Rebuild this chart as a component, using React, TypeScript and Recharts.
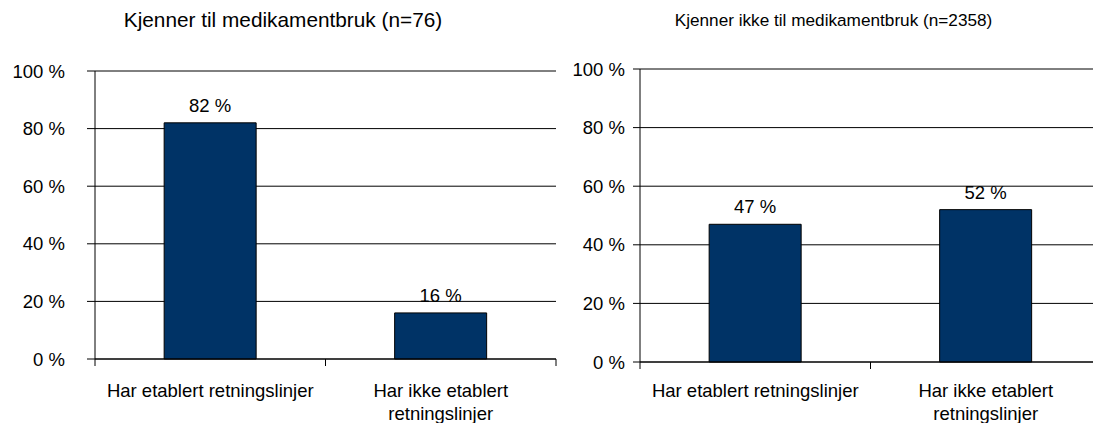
import { BarChart, Bar, XAxis, YAxis, CartesianGrid, LabelList } from "recharts";

const categories = ["Har etablert retningslinjer", "Har ikke etablert\nretningslinjer"];
const knownValues = [82, 16];
const unknownValues = [47, 52];
const yTicks = [0, 20, 40, 60, 80, 100];
const titles = ["Kjenner til medikamentbruk (n=76)", "Kjenner ikke til medikamentbruk (n=2358)"];

const FONT = "'Liberation Sans', Arial, sans-serif";
const NAVY = "#003366";
const FS = 18.5;

const leftData = categories.map((name, i) => ({ name, value: knownValues[i] }));
const rightData = categories.map((name, i) => ({ name, value: unknownValues[i] }));

const pct = (v: number) => `${v} %`;

// category label + the small boundary ticks between categories
function CategoryTick(props: any) {
  const { x, y, payload, gap, bandWidth } = props;
  const half = bandWidth / 2;
  const label = String(payload.value);
  const lines = label.split("\n");
  const isLast = categories.indexOf(label) === categories.length - 1;
  const cx = Number(x);
  const cy = Number(y);
  return (
    <g>
      <line x1={cx - half} x2={cx - half} y1={cy} y2={cy + 7} stroke="#000" strokeWidth={1} />
      {isLast && <line x1={cx + half} x2={cx + half} y1={cy} y2={cy + 7} stroke="#000" strokeWidth={1} />}
      <text x={cx} y={cy + gap} textAnchor="middle" fontSize={FS} fontFamily={FONT} fill="#000">
        {lines.map((line, i) => (
          <tspan key={i} x={cx} dy={i === 0 ? 0 : 23}>
            {line}
          </tspan>
        ))}
      </text>
    </g>
  );
}

type PanelProps = {
  data: { name: string; value: number }[];
  width: number;
  yAxisWidth: number;
  top: number;
  xAxisHeight: number;
  tickSize: number;
  tickMargin: number;
  labelGap: number;
};

function Panel({ data, width, yAxisWidth, top, xAxisHeight, tickSize, tickMargin, labelGap }: PanelProps) {
  const bandWidth = (width - yAxisWidth - 4) / data.length;
  return (
    <BarChart
      width={width}
      height={423}
      data={data}
      margin={{ top, right: 4, bottom: 0, left: 0 }}
      barCategoryGap="30%"
    >
      <CartesianGrid vertical={false} stroke="#000" strokeWidth={1} />
      <XAxis
        dataKey="name"
        height={xAxisHeight}
        tickLine={false}
        tickSize={0}
        tickMargin={0}
        axisLine={{ stroke: "#000" }}
        interval={0}
        tick={(p: any) => <CategoryTick {...p} gap={labelGap} bandWidth={bandWidth} />}
      />
      <YAxis
        width={yAxisWidth}
        domain={[0, 100]}
        ticks={yTicks}
        tickFormatter={pct}
        tickSize={tickSize}
        tickMargin={tickMargin}
        axisLine={{ stroke: "#000" }}
        tickLine={{ stroke: "#000" }}
        tick={{ fill: "#000", fontSize: FS, fontFamily: FONT }}
      />
      <Bar dataKey="value" fill={NAVY} stroke="#000" strokeWidth={1} isAnimationActive={false}>
        <LabelList
          dataKey="value"
          position="top"
          offset={11}
          formatter={(v: any) => pct(v)}
          style={{ fill: "#000", fontSize: FS, fontFamily: FONT }}
        />
      </Bar>
    </BarChart>
  );
}

export default function App() {
  return (
    <div
      style={{
        position: "absolute",
        left: 0,
        top: 0,
        width: 1093,
        height: 423,
        overflow: "hidden",
        background: "#fff",
        fontFamily: FONT,
      }}
    >
      <div style={{ position: "absolute", left: 0, top: 0, width: 560, height: 423 }}>
        <div
          style={{
            position: "absolute",
            left: 0,
            top: 8,
            width: 566,
            textAlign: "center",
            fontSize: 20.8,
            lineHeight: "24px",
          }}
        >
          {titles[0]}
        </div>
        <Panel
          data={leftData}
          width={560}
          yAxisWidth={95}
          top={71}
          xAxisHeight={64}
          tickSize={8}
          tickMargin={22}
          labelGap={38}
        />
      </div>
      <div style={{ position: "absolute", left: 560, top: 0, width: 533, height: 423, overflow: "hidden" }}>
        <div
          style={{
            position: "absolute",
            left: 0,
            top: 10,
            width: 547,
            textAlign: "center",
            fontSize: 17.2,
            lineHeight: "20px",
          }}
        >
          {titles[1]}
        </div>
        <Panel
          data={rightData}
          width={545}
          yAxisWidth={80}
          top={69}
          xAxisHeight={61}
          tickSize={7}
          tickMargin={8}
          labelGap={35}
        />
      </div>
    </div>
  );
}
